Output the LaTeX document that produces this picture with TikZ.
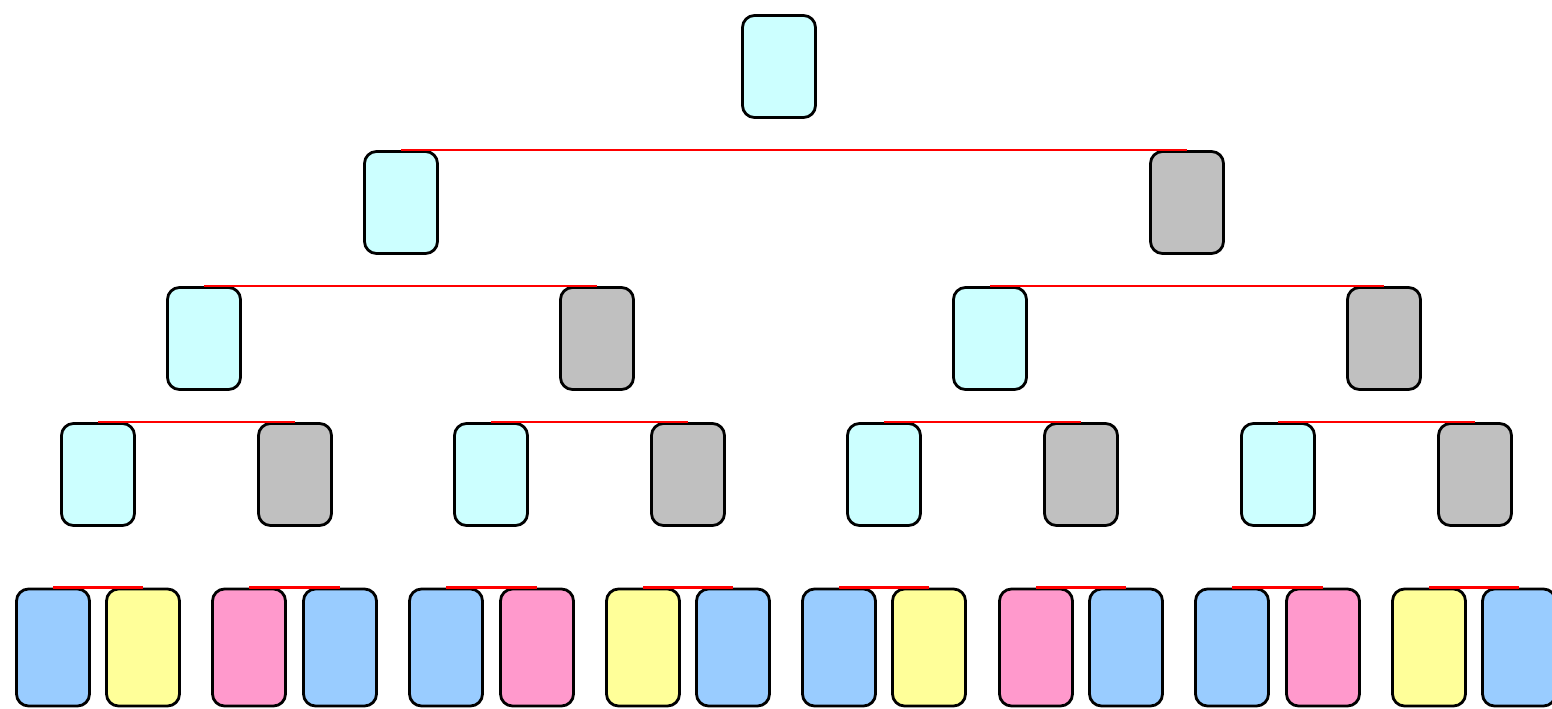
\documentclass[tikz,border=0pt]{standalone}
\begin{document}
\begin{tikzpicture}[x=1pt,y=-1pt,
  box/.style={draw=black,line width=2.8pt,rounded corners=12pt,minimum width=73pt,minimum height=102pt,inner sep=0pt},
  leaf/.style={box,minimum height=117pt},
  cy/.style={fill=cyanlt}, gr/.style={fill=graylt},
  bl/.style={fill=bluelt}, ye/.style={fill=yellowlt}, pk/.style={fill=pinklt},
  link/.style={draw=red,line width=2.6pt}]
\definecolor{cyanlt}{HTML}{CCFFFF}
\definecolor{graylt}{HTML}{C0C0C0}
\definecolor{bluelt}{HTML}{99CCFF}
\definecolor{yellowlt}{HTML}{FFFF99}
\definecolor{pinklt}{HTML}{FF99CC}
\useasboundingbox (0,0) rectangle (1552,709);
\clip (0,0) rectangle (1552,709);
% level 1
\node[box,cy] (r) at (779,66.5) {};
% level 2
\node[box,cy] (a1) at (401,202.5) {};
\node[box,gr] (a2) at (1187,202.5) {};
% level 3
\node[box,cy] (b1) at (204,338.5) {};
\node[box,gr] (b2) at (597,338.5) {};
\node[box,cy] (b3) at (990,338.5) {};
\node[box,gr] (b4) at (1384,338.5) {};
% level 4
\node[box,cy] (c1) at (98,474.5) {};
\node[box,gr] (c2) at (295,474.5) {};
\node[box,cy] (c3) at (491,474.5) {};
\node[box,gr] (c4) at (688,474.5) {};
\node[box,cy] (c5) at (884,474.5) {};
\node[box,gr] (c6) at (1081,474.5) {};
\node[box,cy] (c7) at (1278,474.5) {};
\node[box,gr] (c8) at (1475,474.5) {};
% level 5
\node[leaf,bl] (d1) at (53,647.5) {};
\node[leaf,ye] (d2) at (143,647.5) {};
\node[leaf,pk] (d3) at (249,647.5) {};
\node[leaf,bl] (d4) at (340,647.5) {};
\node[leaf,bl] (d5) at (446,647.5) {};
\node[leaf,pk] (d6) at (537,647.5) {};
\node[leaf,ye] (d7) at (643,647.5) {};
\node[leaf,bl] (d8) at (733,647.5) {};
\node[leaf,bl] (d9) at (839,647.5) {};
\node[leaf,ye] (d10) at (929,647.5) {};
\node[leaf,pk] (d11) at (1036,647.5) {};
\node[leaf,bl] (d12) at (1126,647.5) {};
\node[leaf,bl] (d13) at (1232,647.5) {};
\node[leaf,pk] (d14) at (1323,647.5) {};
\node[leaf,ye] (d15) at (1429,647.5) {};
\node[leaf,bl] (d16) at (1519,647.5) {};
% links
\draw[link] (a1.north) -- (a2.north);
\draw[link] (b1.north) -- (b2.north);
\draw[link] (b3.north) -- (b4.north);
\foreach \i/\j in {1/2,3/4,5/6,7/8} \draw[link] (c\i.north) -- (c\j.north);
\foreach \i/\j in {1/2,3/4,5/6,7/8,9/10,11/12,13/14,15/16} \draw[link] (d\i.north) -- (d\j.north);
\end{tikzpicture}
\end{document}
